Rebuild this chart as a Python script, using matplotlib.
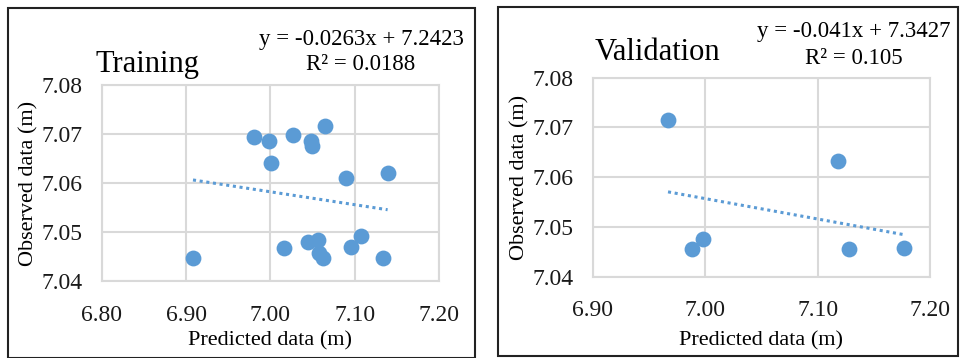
import numpy as np
from matplotlib import pyplot as plt
from matplotlib.patches import Rectangle

# Training set: predicted vs observed (m)
train_pred = [6.908, 6.980, 6.998, 7.001, 7.027, 7.048, 7.049, 7.065, 7.090,
              7.139, 7.016, 7.044, 7.056, 7.058, 7.062, 7.096, 7.108, 7.134]
train_obs = [7.0446, 7.0694, 7.0685, 7.0641, 7.0697, 7.0685, 7.0676, 7.0716,
             7.0610, 7.0620, 7.0468, 7.0480, 7.0484, 7.0458, 7.0446, 7.0470,
             7.0492, 7.0446]
train_fit = [-0.0263, 7.2423]
train_r2 = 0.0188

# Validation set
valid_pred = [6.967, 6.988, 6.998, 7.1185, 7.128, 7.177]
valid_obs = [7.0715, 7.0456, 7.0476, 7.0633, 7.0456, 7.0458]
valid_fit = [-0.041, 7.3427]
valid_r2 = 0.105

train_xticks = [6.80, 6.90, 7.00, 7.10, 7.20]
valid_xticks = [6.90, 7.00, 7.10, 7.20]
yticks = [7.04, 7.05, 7.06, 7.07, 7.08]

W, H = 960.0, 358.0
blue = "#5B9BD5"
grid = "#D9D9D9"
plt.rcParams['font.family'] = ['Liberation Serif', 'DejaVu Serif']


def make_panel(fig, box, xv, yv, fit, xticks, title, eq, r2txt, title_xy, eq_xy, ylab_x):
    # box is left, top, right, bottom of the plot area in pixels
    l, t, r, b = box
    ax = fig.add_axes([l/W, 1-b/H, (r-l)/W, (b-t)/H])
    ax.scatter(xv, yv, s=130, color=blue, zorder=3, linewidths=0)
    xf = np.array([min(xv), max(xv)])
    ax.plot(xf, fit[0]*xf + fit[1], color=blue, linestyle=(0, (1, 1.2)),
            linewidth=2.2, zorder=2)
    ax.set_xlim(xticks[0], xticks[-1])
    ax.set_ylim(yticks[0], yticks[-1])
    ax.set_xticks(xticks)
    ax.set_yticks(yticks)
    ax.set_xticklabels(["{:.2f}".format(v) for v in xticks])
    ax.set_yticklabels(["{:.2f}".format(v) for v in yticks])
    ax.tick_params(length=0, labelsize=17, colors="#1a1a1a")
    ax.tick_params(axis='x', pad=17)
    ax.tick_params(axis='y', pad=14)
    ax.grid(True, color=grid, linewidth=1.5)
    ax.set_axisbelow(True)
    for sp in ax.spines.values():
        sp.set_color(grid)
        sp.set_linewidth(1.5)
    fig.text((l+r)/2/W, 1-341/H, "Predicted data (m)", ha="center", va="center",
             fontsize=16)
    fig.text(ylab_x/W, 1-(t+b)/2/H, "Observed data (m)", ha="center", va="center",
             rotation=90, fontsize=16)
    fig.text(title_xy[0]/W, 1-title_xy[1]/H, title, ha="left", va="baseline",
             fontsize=22)
    fig.text(eq_xy[0]/W, 1-eq_xy[1]/H, eq, ha="center", va="center", fontsize=16.5)
    fig.text(eq_xy[0]/W, 1-(eq_xy[1]+26)/H, r2txt, ha="center", va="center",
             fontsize=16.5)
    return ax


def main():
    fig = plt.figure(figsize=(9.6, 3.58), dpi=100)
    fig.patches.append(Rectangle((8/W, 0.5/H), 467/W, 350/H, transform=fig.transFigure,
                                 fill=False, edgecolor="#222222", linewidth=1.5))
    fig.patches.append(Rectangle((498/W, 2/H), 460/W, 349/H, transform=fig.transFigure,
                                 fill=False, edgecolor="#222222", linewidth=1.5))

    make_panel(fig, (102, 85, 439, 281), train_pred, train_obs, train_fit,
               train_xticks, "Training",
               "y = {}x + {}".format(train_fit[0], train_fit[1]),
               "R² = {}".format(train_r2), (95, 72), (361, 39), 29)
    make_panel(fig, (592.7, 77.7, 930, 276.7), valid_pred, valid_obs, valid_fit,
               valid_xticks, "Validation",
               "y = {}x + {}".format(valid_fit[0], valid_fit[1]),
               "R² = {}".format(valid_r2), (595, 60), (854, 32), 520)

    fig.savefig("out.png", dpi=100)


if __name__ == "__main__":
    main()
